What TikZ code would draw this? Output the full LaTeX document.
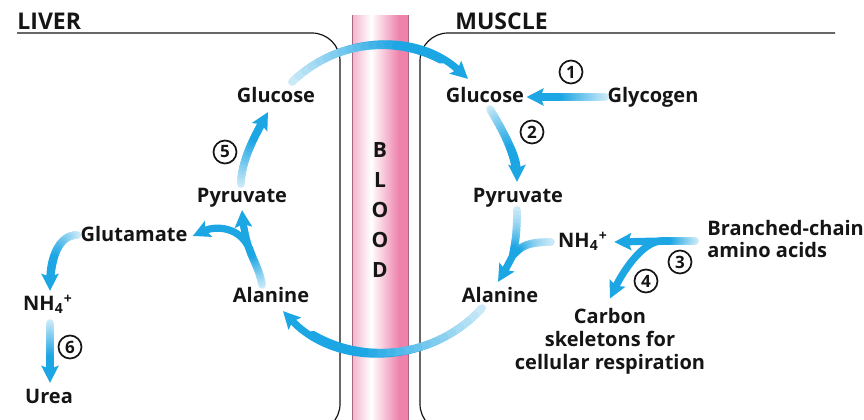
\documentclass[tikz,border=0pt]{standalone}
\usepackage{fontspec}
\setmainfont{Open Sans}
\usetikzlibrary{arrows.meta,calc}
\definecolor{flowblue}{HTML}{1DA6E4}
\definecolor{flowpale}{HTML}{D6EEF9}
\definecolor{bloodlite}{HTML}{F4B3CB}
\definecolor{blooddeep}{HTML}{EE82AB}
\definecolor{bloodedge}{HTML}{A8667F}
\definecolor{ink}{HTML}{151515}
\pgfdeclarehorizontalshading{bloodshade}{100bp}{color(0bp)=(bloodlite); color(25bp)=(bloodlite); color(42bp)=(white); color(67bp)=(blooddeep); color(100bp)=(blooddeep)}
\tikzset{
  >={Stealth[length=8.5pt,width=8.5pt,inset=1.5pt]},
  every node/.style={font=\bfseries\fontsize{10}{12}\selectfont,text=ink},
  metab/.style={inner sep=1pt,text height=7.5pt,text depth=2.2pt},
  title/.style={font=\bfseries\fontsize{11.5}{13}\selectfont,anchor=west,inner sep=0pt},
  stepnum/.style={circle,draw=ink,line width=0.85pt,minimum size=11.5pt,inner sep=0pt,font=\bfseries\fontsize{8.5}{9}\selectfont},
  wall/.style={draw=ink,line width=0.6pt,rounded corners=14pt},
  flow/.style={->,draw=flowblue,line width=3.6pt},
  fadeseg/.style={line width=3.9pt,line cap=round},
  bloodtxt/.style={inner sep=0pt,font=\bfseries\fontsize{10.5}{12}\selectfont},
}
% arrow whose tail fades out
\newcommand{\fadearrow}[1]{%
  \draw[flow] #1;
  \foreach \k in {0,...,20}{\path #1 coordinate[pos=\k/24] (fd\k);}
  \foreach \k [remember=\k as \j (initially 0)] in {1,...,20}{%
    \pgfmathtruncatemacro\shade{min(100,\k*100/15)}%
    \draw[fadeseg,draw=flowblue!\shade!flowpale] (fd\j) -- (fd\k);}%
}
% faded stem with no head
\newcommand{\fadetrunk}[1]{%
  \foreach \k in {0,...,16}{\path #1 coordinate[pos=\k/16] (fd\k);}
  \foreach \k [remember=\k as \j (initially 0)] in {1,...,16}{%
    \pgfmathtruncatemacro\shade{min(100,\k*100/14)}%
    \draw[fadeseg,draw=flowblue!\shade!flowpale] (fd\j) -- (fd\k);}%
}

\begin{document}
\begin{tikzpicture}[x=0.5pt,y=-0.5pt]
  \useasboundingbox (0,0) rectangle (864,419);
  \clip (0,0) rectangle (864,419);

  % compartments
  \node[title] (liver) at (17,21) {LIVER};
  \node[title] (muscle) at (455,21) {MUSCLE};
  \draw[wall] (17,33) -- (340,33) -- (340,432) -- (-10,432);
  \draw[wall] (835,33) -- (420,33) -- (420,432) -- (880,432);

  % blood vessel
  \fill[shading=bloodshade] (352,15) rectangle (408,440);
  \draw[bloodedge,line width=0.5pt] (352,15) -- (352,440) (408,15) -- (408,440);
  \foreach \c [count=\i] in {B,L,O,O,D}
    \node[bloodtxt] (blood\i) at (380,120+30*\i) {\c};

  % liver
  \node[metab] (gluL) at (276,97) {Glucose};
  \node[metab] (pyrL) at (242,197) {Pyruvate};
  \node[metab] (gluta) at (134,236) {Glutamate};
  \node[metab] (alaL) at (271,297) {Alanine};
  \node[metab] (ammL) at (48,305) {NH\textsubscript{4}\textsuperscript{+}};
  \node[metab] (urea) at (49,398) {Urea};
  \node[stepnum] (n5) at (225,152) {5};
  \node[stepnum] (n6) at (70,347) {6};

  % muscle
  \node[metab] (gluM) at (485,97) {Glucose};
  \node[metab] (glyc) at (653,97) {Glycogen};
  \node[metab] (pyrM) at (518,197) {Pyruvate};
  \node[metab] (ammM) at (583,242) {NH\textsubscript{4}\textsuperscript{+}};
  \node[metab] (alaM) at (500,297) {Alanine};
  \node[anchor=west,align=left,inner sep=0pt,font=\bfseries\fontsize{10}{11}\selectfont] (bcaa) at (707,239) {Branched-chain\\amino acids};
  \node[anchor=north,align=center,inner sep=1pt,font=\bfseries\fontsize{10}{11.5}\selectfont] (carbon) at (610,305.5) {Carbon\\skeletons for\\cellular respiration};
  \node[stepnum] (n1) at (571,72) {1};
  \node[stepnum] (n2) at (532,132) {2};
  \node[stepnum] (n3) at (680,262) {3};
  \node[stepnum] (n4) at (646,281) {4};

  \coordinate (mrgM) at (513,255);
  \coordinate (frkM) at (662,241);
  \coordinate (frkL) at (249,248);

  % glucose to muscle, alanine back to liver
  \fadearrow{($(gluL.north)+(16,-3)$) .. controls +(50,-48) and +(-50,-46) .. ($(gluM.north)+(-17,-6)$)}
  \fadearrow{($(alaM.south)+(-18,-1)$) .. controls +(-53,58) and +(54,57) .. ($(alaL.south)+(12,2)$)}

  % muscle
  \fadearrow{(glyc.west) -- (gluM.east)}
  \fadearrow{($(gluM.south)+(5,0)$) .. controls +(10,17) and +(0,-28) .. ($(pyrM.north)+(-1,-3)$)}
  \fadetrunk{($(pyrM.south)+(-1,1)$) .. controls +(0,25) and +(2,-12) .. (mrgM)}
  \fadetrunk{($(ammM.west)+(-5,0)$) .. controls +(-25,0) and +(8,-8) .. (mrgM)}
  \draw[flow] (mrgM) .. controls +(-5,10) and +(6,-10) .. ($(alaM.north)+(-2,-3)$);
  \fadetrunk{($(bcaa.west)+(-12,2)$) -- (frkM)}
  \draw[flow] (frkM) -- ($(ammM.east)+(4,0)$);
  \draw[flow] (frkM) .. controls +(-20,0) and +(12,-25) .. ($(carbon.north)+(0,-7)$);

  % liver
  \fadetrunk{($(alaL.north)+(-9,0)$) .. controls +(-2,-14) and +(4,12) .. (frkL)}
  \draw[flow] (frkL) .. controls +(-4,-12) and +(1,12) .. ($(pyrL.south)+(0,1)$);
  \draw[flow] (frkL) .. controls +(-10,-22) and +(22,-10) .. ($(gluta.east)+(3,0)$);
  \fadearrow{($(pyrL.north)+(-1,-1)$) .. controls +(0,-25) and +(-10,18) .. ($(gluL.south)+(-8,3)$)}
  \fadearrow{($(gluta.west)+(-1,-1)$) .. controls +(-20,0) and +(0,-30) .. ($(ammL.north)+(2,-2)$)}
  \fadearrow{($(ammL.south)+(2,6)$) -- ($(urea.north)+(1,-3)$)}
\end{tikzpicture}
\end{document}
